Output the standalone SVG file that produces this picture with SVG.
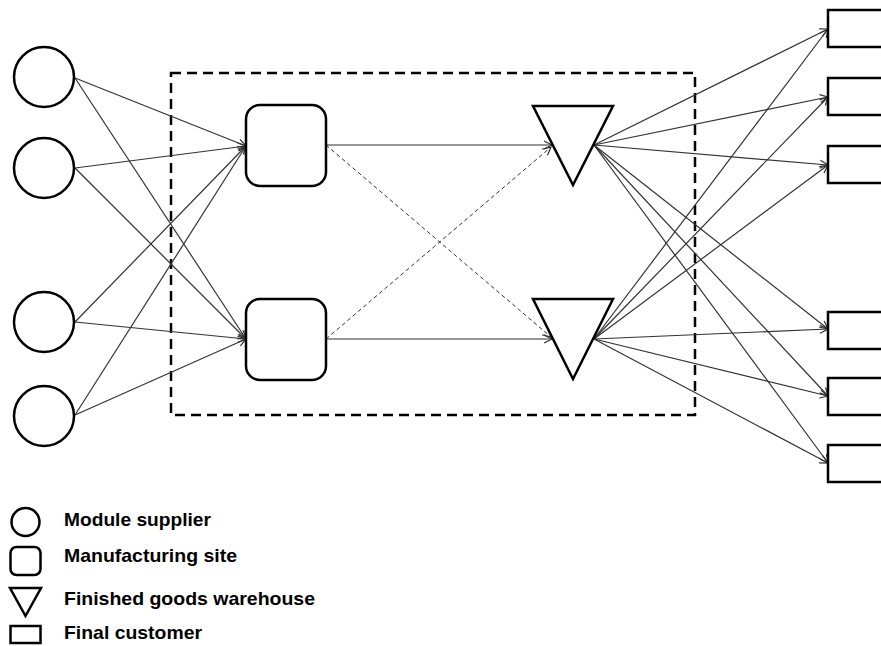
<svg xmlns="http://www.w3.org/2000/svg" width="881" height="646" viewBox="0 0 881 646">
<style>
.node{fill:#fff;stroke:#000;stroke-width:2.5}
.ln{stroke:#333;stroke-width:1.2;fill:none;marker-end:url(#arr)}
.dl{stroke:#333;stroke-width:1;fill:none;stroke-dasharray:4 3;marker-end:url(#arr)}
.lg{font-family:"Liberation Sans",Arial,sans-serif;font-weight:bold;font-size:18.5px;fill:#000}
</style>
<defs>
<marker id="arr" markerUnits="userSpaceOnUse" markerWidth="10" markerHeight="10" refX="8" refY="4" orient="auto" overflow="visible">
<path d="M0,0 L8,4 L0,8" fill="none" stroke="#333" stroke-width="1.2"/>
</marker>
</defs>
<rect x="0" y="0" width="881" height="646" fill="#fff"/>
<rect x="171" y="73" width="524" height="342" fill="none" stroke="#000" stroke-width="2.5" stroke-dasharray="10 6"/>
<g id="connectors">
<line class="ln" x1="75" y1="78" x2="246" y2="146"/>
<line class="ln" x1="75" y1="168" x2="246" y2="146"/>
<line class="ln" x1="75" y1="322" x2="246" y2="146"/>
<line class="ln" x1="75" y1="415" x2="246" y2="146"/>
<line class="ln" x1="75" y1="78" x2="246" y2="339"/>
<line class="ln" x1="75" y1="168" x2="246" y2="339"/>
<line class="ln" x1="75" y1="322" x2="246" y2="339"/>
<line class="ln" x1="75" y1="415" x2="246" y2="339"/>
<line class="ln" x1="326" y1="145" x2="552" y2="145"/>
<line class="ln" x1="326" y1="339" x2="552" y2="339"/>
<line class="dl" x1="326" y1="145" x2="551" y2="337"/>
<line class="dl" x1="326" y1="339" x2="551" y2="147"/>
<line class="ln" x1="594" y1="145" x2="828" y2="29"/>
<line class="ln" x1="594" y1="145" x2="828" y2="97"/>
<line class="ln" x1="594" y1="145" x2="828" y2="165"/>
<line class="ln" x1="594" y1="145" x2="828" y2="329"/>
<line class="ln" x1="594" y1="145" x2="828" y2="396"/>
<line class="ln" x1="594" y1="145" x2="828" y2="463"/>
<line class="ln" x1="594" y1="339" x2="828" y2="29"/>
<line class="ln" x1="594" y1="339" x2="828" y2="97"/>
<line class="ln" x1="594" y1="339" x2="828" y2="165"/>
<line class="ln" x1="594" y1="339" x2="828" y2="329"/>
<line class="ln" x1="594" y1="339" x2="828" y2="396"/>
<line class="ln" x1="594" y1="339" x2="828" y2="463"/>
</g>
<g id="supplier1"><circle class="node" cx="44" cy="77" r="30"/></g>
<g id="supplier2"><circle class="node" cx="44" cy="168" r="30"/></g>
<g id="supplier3"><circle class="node" cx="44" cy="322" r="30"/></g>
<g id="supplier4"><circle class="node" cx="44" cy="416" r="30"/></g>
<g id="plant1"><rect class="node" x="246" y="105" width="80" height="81" rx="14"/></g>
<g id="plant2"><rect class="node" x="246" y="299" width="80" height="81" rx="14"/></g>
<g id="warehouse1"><polygon class="node" points="533,106 613,106 573,185"/></g>
<g id="warehouse2"><polygon class="node" points="533,299 613,299 573,379"/></g>
<g id="customer1"><rect class="node" x="828" y="10" width="70" height="37"/></g>
<g id="customer2"><rect class="node" x="828" y="78" width="70" height="37"/></g>
<g id="customer3"><rect class="node" x="828" y="146" width="70" height="37"/></g>
<g id="customer4"><rect class="node" x="828" y="312" width="70" height="37"/></g>
<g id="customer5"><rect class="node" x="828" y="378" width="70" height="37"/></g>
<g id="customer6"><rect class="node" x="828" y="445" width="70" height="37"/></g>
<g id="legend">
<circle class="node" cx="25.5" cy="522" r="14" stroke-width="2.2"/>
<rect class="node" x="10.5" y="547" width="30" height="28" rx="6" stroke-width="2.2"/>
<polygon class="node" points="10,588 41,588 25.5,616" stroke-width="2.2"/>
<rect class="node" x="10.5" y="626" width="30" height="17" stroke-width="2.2"/>
<text class="lg" x="64" y="526" textLength="147" lengthAdjust="spacingAndGlyphs">Module supplier</text>
<text class="lg" x="64" y="562" textLength="173" lengthAdjust="spacingAndGlyphs">Manufacturing site</text>
<text class="lg" x="64" y="605" textLength="251" lengthAdjust="spacingAndGlyphs">Finished goods warehouse</text>
<text class="lg" x="64" y="639" textLength="138" lengthAdjust="spacingAndGlyphs">Final customer</text>
</g>
</svg>
